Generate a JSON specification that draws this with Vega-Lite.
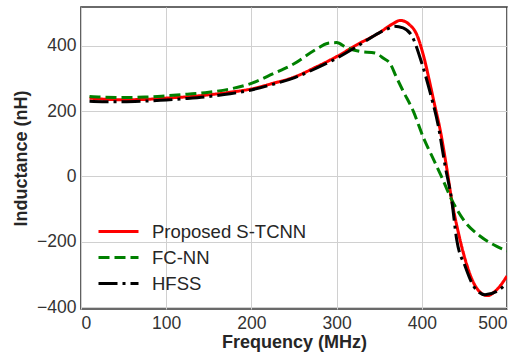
{
  "$schema": "https://vega.github.io/schema/vega-lite/v6.json",
  "width": 426,
  "height": 302,
  "autosize": "none",
  "padding": {"left": 81, "top": 7, "right": 11, "bottom": 45},
  "background": "white",
  "config": {
    "font": "Liberation Sans",
    "view": {"stroke": "#3a3a3a", "strokeWidth": 1.6},
    "axis": {
      "labelFont": "Liberation Sans",
      "labelFontSize": 17.5,
      "labelColor": "#333333",
      "titleFont": "Liberation Sans",
      "titleFontSize": 18,
      "titleFontWeight": "bold",
      "titleColor": "#262626",
      "gridColor": "#d0d0d0",
      "gridWidth": 1,
      "domain": false,
      "ticks": false,
      "labelPadding": 5
    }
  },
  "data": {
    "values": [
      {"s": "Proposed S-TCNN", "f": 10, "L": 240},
      {"s": "Proposed S-TCNN", "f": 25, "L": 237},
      {"s": "Proposed S-TCNN", "f": 50, "L": 235},
      {"s": "Proposed S-TCNN", "f": 75, "L": 236},
      {"s": "Proposed S-TCNN", "f": 100, "L": 240},
      {"s": "Proposed S-TCNN", "f": 125, "L": 244},
      {"s": "Proposed S-TCNN", "f": 150, "L": 250},
      {"s": "Proposed S-TCNN", "f": 175, "L": 258},
      {"s": "Proposed S-TCNN", "f": 200, "L": 268},
      {"s": "Proposed S-TCNN", "f": 225, "L": 285},
      {"s": "Proposed S-TCNN", "f": 250, "L": 304},
      {"s": "Proposed S-TCNN", "f": 275, "L": 334},
      {"s": "Proposed S-TCNN", "f": 300, "L": 367},
      {"s": "Proposed S-TCNN", "f": 325, "L": 405},
      {"s": "Proposed S-TCNN", "f": 350, "L": 440},
      {"s": "Proposed S-TCNN", "f": 365, "L": 466},
      {"s": "Proposed S-TCNN", "f": 375, "L": 478},
      {"s": "Proposed S-TCNN", "f": 385, "L": 466},
      {"s": "Proposed S-TCNN", "f": 394, "L": 435},
      {"s": "Proposed S-TCNN", "f": 402, "L": 370},
      {"s": "Proposed S-TCNN", "f": 410, "L": 280},
      {"s": "Proposed S-TCNN", "f": 415, "L": 220},
      {"s": "Proposed S-TCNN", "f": 421, "L": 150},
      {"s": "Proposed S-TCNN", "f": 429, "L": 30},
      {"s": "Proposed S-TCNN", "f": 435, "L": -71},
      {"s": "Proposed S-TCNN", "f": 443, "L": -173},
      {"s": "Proposed S-TCNN", "f": 451, "L": -255},
      {"s": "Proposed S-TCNN", "f": 461, "L": -327},
      {"s": "Proposed S-TCNN", "f": 470, "L": -358},
      {"s": "Proposed S-TCNN", "f": 477, "L": -365},
      {"s": "Proposed S-TCNN", "f": 488, "L": -347},
      {"s": "Proposed S-TCNN", "f": 500, "L": -305},
      {"s": "FC-NN", "f": 10, "L": 245},
      {"s": "FC-NN", "f": 25, "L": 243},
      {"s": "FC-NN", "f": 50, "L": 242},
      {"s": "FC-NN", "f": 75, "L": 243},
      {"s": "FC-NN", "f": 100, "L": 247},
      {"s": "FC-NN", "f": 125, "L": 252},
      {"s": "FC-NN", "f": 150, "L": 258},
      {"s": "FC-NN", "f": 175, "L": 268},
      {"s": "FC-NN", "f": 200, "L": 285},
      {"s": "FC-NN", "f": 225, "L": 314},
      {"s": "FC-NN", "f": 250, "L": 345},
      {"s": "FC-NN", "f": 275, "L": 388},
      {"s": "FC-NN", "f": 290, "L": 408},
      {"s": "FC-NN", "f": 300, "L": 410},
      {"s": "FC-NN", "f": 312, "L": 394},
      {"s": "FC-NN", "f": 327, "L": 383},
      {"s": "FC-NN", "f": 345, "L": 378},
      {"s": "FC-NN", "f": 355, "L": 362},
      {"s": "FC-NN", "f": 363, "L": 345},
      {"s": "FC-NN", "f": 370, "L": 305},
      {"s": "FC-NN", "f": 378, "L": 262},
      {"s": "FC-NN", "f": 390, "L": 200},
      {"s": "FC-NN", "f": 402, "L": 118},
      {"s": "FC-NN", "f": 414, "L": 51},
      {"s": "FC-NN", "f": 423, "L": 0},
      {"s": "FC-NN", "f": 435, "L": -71},
      {"s": "FC-NN", "f": 449, "L": -133},
      {"s": "FC-NN", "f": 469, "L": -184},
      {"s": "FC-NN", "f": 488, "L": -214},
      {"s": "FC-NN", "f": 500, "L": -228},
      {"s": "HFSS", "f": 10, "L": 230},
      {"s": "HFSS", "f": 25, "L": 229},
      {"s": "HFSS", "f": 50, "L": 229},
      {"s": "HFSS", "f": 75, "L": 231},
      {"s": "HFSS", "f": 100, "L": 234},
      {"s": "HFSS", "f": 125, "L": 239},
      {"s": "HFSS", "f": 150, "L": 245},
      {"s": "HFSS", "f": 175, "L": 253},
      {"s": "HFSS", "f": 200, "L": 265},
      {"s": "HFSS", "f": 225, "L": 282},
      {"s": "HFSS", "f": 250, "L": 302},
      {"s": "HFSS", "f": 275, "L": 330},
      {"s": "HFSS", "f": 300, "L": 362},
      {"s": "HFSS", "f": 325, "L": 400},
      {"s": "HFSS", "f": 350, "L": 440},
      {"s": "HFSS", "f": 360, "L": 452},
      {"s": "HFSS", "f": 368, "L": 460},
      {"s": "HFSS", "f": 378, "L": 455},
      {"s": "HFSS", "f": 388, "L": 432},
      {"s": "HFSS", "f": 400, "L": 347},
      {"s": "HFSS", "f": 410, "L": 255},
      {"s": "HFSS", "f": 419.5, "L": 153},
      {"s": "HFSS", "f": 427.5, "L": 31},
      {"s": "HFSS", "f": 435, "L": -71},
      {"s": "HFSS", "f": 441, "L": -194},
      {"s": "HFSS", "f": 451, "L": -276},
      {"s": "HFSS", "f": 461, "L": -337},
      {"s": "HFSS", "f": 474, "L": -362},
      {"s": "HFSS", "f": 488, "L": -352},
      {"s": "HFSS", "f": 500, "L": -327}
    ]
  },
  "mark": {"type": "line", "strokeWidth": 3, "interpolate": "monotone", "clip": true},
  "encoding": {
    "x": {
      "field": "f", "type": "quantitative",
      "scale": {"domain": [0, 500], "nice": false, "zero": false},
      "axis": {"values": [0, 100, 200, 300, 400, 500], "title": "Frequency (MHz)", "titlePadding": 2}
    },
    "y": {
      "field": "L", "type": "quantitative",
      "scale": {"domain": [-406, 519], "nice": false, "zero": false},
      "axis": {"values": [-400, -200, 0, 200, 400], "title": "Inductance (nH)", "titlePadding": 6}
    },
    "color": {
      "field": "s", "type": "nominal",
      "scale": {"domain": ["Proposed S-TCNN", "FC-NN", "HFSS"], "range": ["#ff0000", "#008000", "#000000"]},
      "legend": {
        "title": null,
        "orient": "bottom-left",
        "offset": 16,
        "labelFont": "Liberation Sans",
        "labelFontSize": 18.5,
        "labelColor": "#262626",
        "symbolType": "M-1,0H3",
        "symbolSize": 400,
        "symbolStrokeWidth": 3,
        "symbolFillColor": "transparent",
        "rowPadding": 5,
        "labelOffset": 32,
        "fillColor": null
      }
    },
    "strokeDash": {
      "field": "s", "type": "nominal",
      "scale": {"domain": ["Proposed S-TCNN", "FC-NN", "HFSS"], "range": [[1, 0], [11, 5], [19, 5, 3, 5]]},
      "legend": null
    }
  }
}
